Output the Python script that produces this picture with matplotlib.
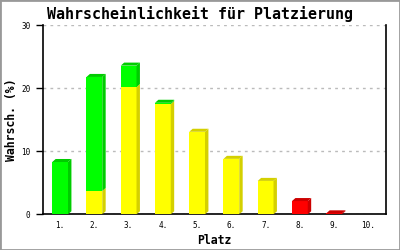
import matplotlib
matplotlib.use("Agg")
import matplotlib.pyplot as plt
from matplotlib.patches import Polygon, Rectangle

# Data
places = ["1.", "2.", "3.", "4.", "5.", "6.", "7.", "8.", "9.", "10."]
yellow = [0.0, 3.7, 20.2, 17.5, 13.1, 8.8, 5.3, 0.0, 0.0, 0.0]
green = [8.3, 18.1, 3.4, 0.2, 0.0, 0.0, 0.0, 0.0, 0.0, 0.0]
red = [0.0, 0.0, 0.0, 0.0, 0.0, 0.0, 0.0, 2.1, 0.15, 0.0]

front = {"yellow": "#ffff00", "green": "#00ff00", "red": "#ff0000"}
shade = {"yellow": "#d4d000", "green": "#00cc00", "red": "#cc0000"}

mono = "DejaVu Sans Mono"

fig = plt.figure(figsize=(4, 2.5), dpi=100)
fig.patches.append(Rectangle((0, 0), 1, 1, transform=fig.transFigure,
                             fill=False, edgecolor="#999999", linewidth=2))
ax = fig.add_axes([43 / 400, 1 - 214.3 / 250, 342.5 / 400, 189 / 250])

width = 0.46
dx = 0.1   # depth offsets in data units
dy = 0.48

for i in range(len(places)):
    x = i + 1
    base = 0.0
    segs = [("yellow", yellow[i]), ("green", green[i]), ("red", red[i])]
    segs = [s for s in segs if s[1] > 0]
    for k, (name, val) in enumerate(segs):
        x0, x1 = x - width / 2, x + width / 2
        ax.bar(x, val, width, bottom=base, color=front[name], linewidth=0, zorder=3)
        ax.add_patch(Polygon([(x1, base), (x1 + dx, base + dy), (x1 + dx, base + val + dy),
                              (x1, base + val)], closed=True, color=shade[name],
                             linewidth=0, zorder=3))
        if k == len(segs) - 1:
            top = base + val
            ax.add_patch(Polygon([(x0, top), (x0 + dx, top + dy), (x1 + dx, top + dy),
                                  (x1, top)], closed=True, color=shade[name],
                                 linewidth=0, zorder=3))
        base += val

ax.set_xlim(0.5, 10.5)
ax.set_ylim(0, 30)
ax.set_yticks([0, 10, 20, 30])
ax.set_xticks(range(1, 11))
ax.set_xticklabels(places, fontfamily=mono, fontsize=5.5)
ax.tick_params(axis="x", length=0, pad=5)
ax.tick_params(axis="y", length=5, width=1, labelsize=5.5, pad=4)
for lab in ax.get_yticklabels():
    lab.set_fontfamily(mono)

ax.yaxis.grid(True, color="#bbbbbb", linestyle=(0, (2, 3)), linewidth=1)
ax.set_axisbelow(True)
ax.spines["top"].set_visible(False)
for s in ["left", "right", "bottom"]:
    ax.spines[s].set_linewidth(1.2)

ax.set_xlabel("Platz", fontfamily=mono, fontweight="bold", fontsize=8.3, labelpad=3)
ax.set_ylabel("Wahrsch. (%)", fontfamily=mono, fontweight="bold", fontsize=8.3, labelpad=2)
fig.text(0.5, 1 - 14 / 250, "Wahrscheinlichkeit für Platzierung", ha="center", va="center",
         fontfamily=mono, fontweight="bold", fontsize=10.8)

fig.savefig("out.png", dpi=100)
